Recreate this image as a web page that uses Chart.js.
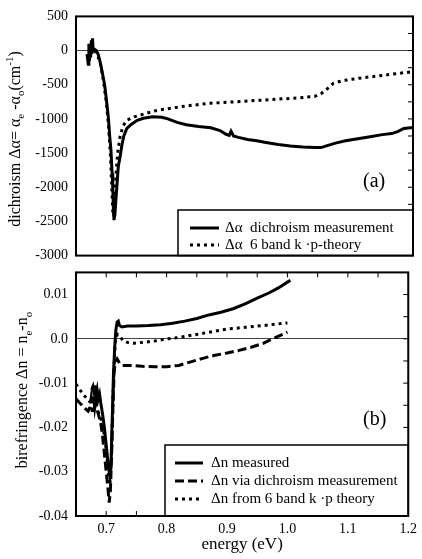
<!DOCTYPE html>
<html>
<head>
<meta charset="utf-8">
<script src="https://cdn.jsdelivr.net/npm/chart.js@4.4.1/dist/chart.umd.min.js"></script>
<style>
  body { margin: 0; background: #fff; }
  #wrap { position: relative; width: 422px; height: 559px; font-family: "Liberation Serif", serif; }
  canvas { position: absolute; left: 0; }
  #topChart { top: 0; }
  #botChart { top: 256px; }
  .ytitle { position: absolute; white-space: nowrap; font-size: 16px; line-height: 1; transform: translate(-50%, -50%) rotate(-90deg); }
  .ytitle sub, .ytitle sup { font-size: 11px; }
</style>
</head>
<body>
<div id="wrap">
  <canvas id="topChart" width="422" height="272"></canvas>
  <canvas id="botChart" width="422" height="303"></canvas>
  <div class="ytitle" style="left:15px; top:139px">dichroism &Delta;&alpha;= &alpha;<sub>e</sub> -&alpha;<sub>o</sub>(cm<sup>-1</sup>)</div>
  <div class="ytitle" style="left:24px; top:390px">birefringence &Delta;n = n<sub>e</sub>-n<sub>o</sub></div>
</div>
<script>
// panel (a) - dichroism, measured
const dichroMeasX = [0.668, 0.670, 0.671, 0.672, 0.673, 0.674, 0.675, 0.676, 0.677, 0.678, 0.680, 0.683, 0.686, 0.689,
  0.692, 0.695, 0.697, 0.700, 0.703, 0.705, 0.707, 0.709, 0.710, 0.711, 0.712, 0.7135, 0.715, 0.717, 0.719, 0.722,
  0.725, 0.728, 0.733, 0.740, 0.750, 0.760, 0.775, 0.790, 0.800, 0.815, 0.830, 0.850, 0.870, 0.885, 0.895, 0.900,
  0.903, 0.907, 0.915, 0.930, 0.945, 0.960, 0.980, 1.000, 1.020, 1.040, 1.050, 1.060, 1.075, 1.090, 1.110, 1.130,
  1.150, 1.165, 1.175, 1.185, 1.200];
const dichroMeasY = [-50, -200, 100, -150, 50, -100, 150, -50, 180, 0, 20, 0, -50, -150,
  -280, -420, -520, -750, -1000, -1250, -1450, -1800, -2000, -2300, -2480, -2400, -2200, -1950, -1700, -1550,
  -1380, -1250, -1140, -1080, -1020, -990, -970, -975, -1000, -1050, -1085, -1110, -1130, -1170, -1225, -1240,
  -1180, -1250, -1270, -1300, -1320, -1345, -1375, -1395, -1410, -1418, -1420, -1390, -1350, -1320, -1290, -1260,
  -1230, -1215, -1185, -1140, -1125];

// panel (a) - 6 band k.p theory
const dichroTheoX = [0.680, 0.685, 0.690, 0.695, 0.700, 0.703, 0.706, 0.708, 0.710, 0.7115, 0.713, 0.715, 0.718,
  0.722, 0.727, 0.733, 0.745, 0.760, 0.780, 0.800, 0.830, 0.870, 0.920, 0.970, 1.010, 1.040, 1.050, 1.060, 1.070,
  1.085, 1.100, 1.120, 1.150, 1.175, 1.200];
const dichroTheoY = [0, -60, -200, -450, -800, -1100, -1500, -1900, -2350, -2420, -2200, -1850, -1500,
  -1250, -1100, -1020, -970, -930, -880, -850, -810, -770, -745, -715, -695, -670, -630, -560, -480,
  -440, -420, -395, -365, -335, -310];

// panel (b) - birefringence measured
const birefMeasX = [0.676, 0.678, 0.680, 0.681, 0.683, 0.685, 0.687, 0.689, 0.691, 0.694, 0.697, 0.700, 0.703,
  0.706, 0.708, 0.710, 0.712, 0.714, 0.716, 0.718, 0.720, 0.722, 0.726, 0.735, 0.750, 0.770, 0.790, 0.810, 0.830,
  0.850, 0.870, 0.890, 0.910, 0.930, 0.950, 0.970, 0.985, 1.000, 1.005];
const birefMeasY = [-0.0115, -0.0108, -0.0125, -0.0105, -0.013, -0.0115, -0.0135, -0.0125, -0.0145, -0.017,
  -0.020, -0.024, -0.028, -0.031, -0.028, -0.018, -0.008, -0.002, 0.002, 0.0038, 0.004, 0.003, 0.0027, 0.0029,
  0.0029, 0.003, 0.0032, 0.0035, 0.004, 0.0046, 0.0054, 0.006, 0.0068, 0.0079, 0.0092, 0.0104, 0.0115, 0.0128, 0.0132];

// panel (b) - via dichroism measurement
const birefDichX = [0.650, 0.655, 0.660, 0.665, 0.670, 0.673, 0.675, 0.677, 0.679, 0.681, 0.683, 0.685, 0.688,
  0.691, 0.694, 0.697, 0.700, 0.703, 0.705, 0.707, 0.709, 0.711, 0.713, 0.715, 0.718, 0.722, 0.727, 0.740, 0.760,
  0.780, 0.800, 0.820, 0.840, 0.860, 0.880, 0.900, 0.920, 0.940, 0.960, 0.980, 1.000];
const birefDichY = [-0.0135, -0.0143, -0.015, -0.0157, -0.0163, -0.0155, -0.0135, -0.0165, -0.013, -0.0155,
  -0.0135, -0.016, -0.0175, -0.019, -0.022, -0.026, -0.030, -0.034, -0.037, -0.034, -0.026, -0.016, -0.008,
  -0.005, -0.0045, -0.0055, -0.006, -0.006, -0.0062, -0.0063, -0.0063, -0.006, -0.0052, -0.0044, -0.0037,
  -0.0032, -0.0026, -0.0019, -0.001, 0.0003, 0.0015];

// panel (b) - 6 band k.p theory
const birefTheoX = [0.650, 0.655, 0.660, 0.665, 0.670, 0.675, 0.680, 0.685, 0.690, 0.695, 0.700, 0.704, 0.706,
  0.708, 0.710, 0.712, 0.714, 0.716, 0.719, 0.723, 0.728, 0.735, 0.745, 0.760, 0.780, 0.800, 0.820, 0.850, 0.870,
  0.900, 0.930, 0.960, 1.000];
const birefTheoY = [-0.0102, -0.0112, -0.0122, -0.013, -0.0138, -0.0145, -0.0152, -0.016, -0.0175, -0.020,
  -0.025, -0.031, -0.033, -0.029, -0.020, -0.010, -0.003, 0.0005, 0.001, 0.0005, -0.0004, -0.0008, -0.001,
  -0.0008, -0.0005, 0.0, 0.0003, 0.001, 0.0015, 0.0022, 0.0026, 0.003, 0.0036];

// axes
const xTicks = [0.7, 0.8, 0.9, 1.0, 1.1, 1.2];
const xTickLabels = ["0.7", "0.8", "0.9", "1.0", "1.1", "1.2"];
const xMinor = [0.65, 0.7, 0.75, 0.8, 0.85, 0.9, 0.95, 1.0, 1.05, 1.1, 1.15, 1.2];
const yTicksA = [-3000, -2500, -2000, -1500, -1000, -500, 0, 500];
const yTickLabelsA = ["-3000", "-2500", "-2000", "-1500", "-1000", "-500", "0", "500"];
const yMinorA = [-2750, -2500, -2250, -2000, -1750, -1500, -1250, -1000, -750, -500, -250, 0, 250];
const yTicksB = [-0.04, -0.03, -0.02, -0.01, 0, 0.01];
const yTickLabelsB = ["-0.04", "-0.03", "-0.02", "-0.01", "0.0", "0.01"];
const yMinorB = [-0.035, -0.03, -0.025, -0.02, -0.015, -0.01, -0.005, 0, 0.005, 0.01];

const serif = '"Liberation Serif", "Times New Roman", serif';

function pts(xs, ys) {
  return xs.map((x, i) => ({ x: x, y: ys[i] }));
}

function lineSet(label, xs, ys, dash) {
  return {
    label: label,
    data: pts(xs, ys),
    showLine: true,
    borderColor: "#000",
    borderWidth: 3,
    borderDash: dash,
    pointRadius: 0,
    tension: 0,
  };
}

// frame, inward ticks, panel tag and boxed legend
const framePlugin = {
  id: "frame",
  afterDatasetsDraw(chart, args, o) {
    const ctx = chart.ctx;
    const a = chart.chartArea;
    const sx = chart.scales.x, sy = chart.scales.y;
    ctx.save();
    ctx.strokeStyle = "#000";
    ctx.setLineDash([]);
    ctx.lineWidth = 1;
    ctx.beginPath();
    o.xMarks.forEach((v) => {
      const px = sx.getPixelForValue(v);
      if (o.top) { ctx.moveTo(px, a.top); ctx.lineTo(px, a.top + 5); }
      if (o.bottom) { ctx.moveTo(px, a.bottom); ctx.lineTo(px, a.bottom - 5); }
    });
    o.yMarks.forEach((v) => {
      const py = sy.getPixelForValue(v);
      ctx.moveTo(a.right, py);
      ctx.lineTo(a.right - 5, py);
    });
    ctx.stroke();

    // legend box
    const lg = o.legend;
    ctx.fillStyle = "#fff";
    ctx.fillRect(lg.left, lg.top, a.right - lg.left, a.bottom - lg.top);
    ctx.lineWidth = 1.5;
    ctx.strokeRect(lg.left, lg.top, a.right - lg.left, a.bottom - lg.top);
    ctx.font = "15px " + serif;
    ctx.textBaseline = "middle";
    ctx.fillStyle = "#000";
    chart.data.datasets.forEach((ds, i) => {
      const y = lg.rows[i];
      ctx.lineWidth = 3;
      ctx.setLineDash(ds.borderDash || []);
      ctx.beginPath();
      ctx.moveTo(lg.x0, y);
      ctx.lineTo(lg.x1, y);
      ctx.stroke();
      ctx.setLineDash([]);
      ctx.fillText(ds.label, lg.tx, y);
    });

    ctx.lineWidth = 2;
    ctx.strokeRect(a.left, a.top, a.right - a.left, a.bottom - a.top);

    ctx.font = "20px " + serif;
    ctx.textBaseline = "middle";
    ctx.fillText(o.tag, o.tagX, o.tagY);
    ctx.restore();
  },
};

function zeroLine(c) {
  return c.tick && c.tick.value === 0 ? "#444" : "rgba(0,0,0,0)";
}

const tickFont = { family: serif, size: 14 };

new Chart("topChart", {
  type: "scatter",
  data: {
    datasets: [
      lineSet("\u0394\u03b1  dichroism measurement", dichroMeasX, dichroMeasY, []),
      lineSet("\u0394\u03b1  6 band k \u00b7p-theory", dichroTheoX, dichroTheoY, [3, 4]),
    ],
  },
  options: {
    responsive: false,
    animation: false,
    layout: { padding: { top: 10, right: 9, bottom: 9, left: 0 } },
    plugins: {
      legend: { display: false },
      tooltip: { enabled: false },
      frame: {
        xMarks: xMinor, yMarks: yMinorA, top: false, bottom: false,
        tag: "(a)", tagX: 363, tagY: 182,
        legend: { left: 178, top: 210, rows: [228, 245], x0: 190, x1: 219, tx: 225 },
      },
    },
    scales: {
      x: { type: "linear", display: false, min: 0.65, max: 1.2 },
      y: {
        min: -3000, max: 500,
        afterBuildTicks: (s) => { s.ticks = yTicksA.map((v) => ({ value: v })); },
        afterFit: (s) => { s.width = 76; },
        ticks: { color: "#000", font: tickFont, padding: 8, callback: (v, i) => yTickLabelsA[i] },
        grid: { color: zeroLine, drawTicks: false, lineWidth: 1 },
        border: { display: false },
      },
    },
  },
  plugins: [framePlugin],
});

new Chart("botChart", {
  type: "scatter",
  data: {
    datasets: [
      lineSet("\u0394n measured", birefMeasX, birefMeasY, []),
      lineSet("\u0394n via dichroism measurement", birefDichX, birefDichY, [9, 4]),
      lineSet("\u0394n from 6 band k \u00b7p theory", birefTheoX, birefTheoY, [3, 4]),
    ],
  },
  options: {
    responsive: false,
    animation: false,
    layout: { padding: { top: 7, right: 9, bottom: 0, left: 0 } },
    plugins: {
      legend: { display: false },
      tooltip: { enabled: false },
      frame: {
        xMarks: xMinor, yMarks: yMinorB, top: true, bottom: true,
        tag: "(b)", tagX: 363, tagY: 164,
        legend: { left: 165, top: 189, rows: [207, 225, 243], x0: 175, x1: 203, tx: 211 },
      },
    },
    scales: {
      x: {
        type: "linear", min: 0.65, max: 1.2,
        afterBuildTicks: (s) => { s.ticks = xTicks.map((v) => ({ value: v })); },
        afterFit: (s) => { s.height = 43; },
        ticks: { color: "#000", font: tickFont, padding: 5, maxRotation: 0, callback: (v, i) => xTickLabels[i] },
        grid: { display: false, drawTicks: false },
        border: { display: false },
        title: { display: true, text: "energy (eV)", color: "#000", font: { family: serif, size: 17 }, padding: { top: 2, bottom: 4 } },
      },
      y: {
        min: -0.04, max: 0.015,
        afterBuildTicks: (s) => { s.ticks = yTicksB.map((v) => ({ value: v })); },
        afterFit: (s) => { s.width = 76; },
        ticks: { color: "#000", font: tickFont, padding: 8, callback: (v, i) => yTickLabelsB[i] },
        grid: { color: zeroLine, drawTicks: false, lineWidth: 1 },
        border: { display: false },
      },
    },
  },
  plugins: [framePlugin],
});
</script>
</body>
</html>
